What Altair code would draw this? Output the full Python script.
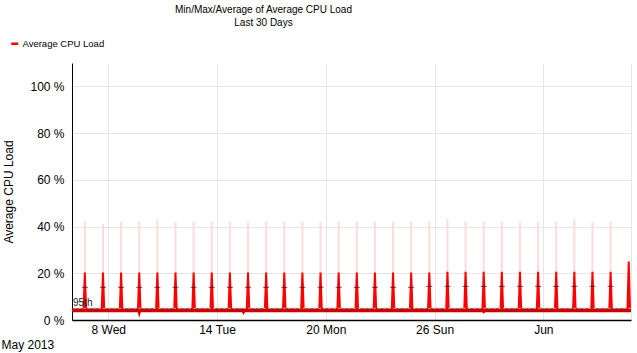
import altair as alt
import pandas as pd

# ---------------- data ----------------
days = ["2013-05-06", "2013-05-07", "2013-05-08", "2013-05-09", "2013-05-10",
        "2013-05-11", "2013-05-12", "2013-05-13", "2013-05-14", "2013-05-15",
        "2013-05-16", "2013-05-17", "2013-05-18", "2013-05-19", "2013-05-20",
        "2013-05-21", "2013-05-22", "2013-05-23", "2013-05-24", "2013-05-25",
        "2013-05-26", "2013-05-27", "2013-05-28", "2013-05-29", "2013-05-30",
        "2013-05-31", "2013-06-01", "2013-06-02", "2013-06-03", "2013-06-04",
        "2013-06-05"]
spike_time = "17:00"
# daily average peak (%)
avg_peak = [20.3, 20.3, 20.3, 20.3, 20.3, 20.3, 20.3, 20.3, 20.3, 20.3,
            20.3, 20.3, 20.3, 20.3, 20.3, 20.3, 20.3, 20.3, 20.3, 20.3,
            20.7, 20.7, 20.7, 20.7, 20.7, 20.7, 20.7, 20.7, 20.7, 20.7,
            25.0]
# daily maximum (%)  (last day: none)
max_peak = [42.4, 41.0, 42.1, 42.1, 43.1, 42.1, 42.1, 42.1, 42.1, 42.1,
            42.1, 42.1, 42.1, 42.1, 42.1, 42.1, 42.1, 42.1, 42.1, 42.1,
            43.1, 42.1, 42.1, 42.1, 42.1, 42.1, 42.1, 43.1, 42.1, 42.1,
            None]
# mid markers (%) (last day: none)
mid_mark = [14.0, 14.0, 14.0, 14.0, 14.0, 14.0, 14.0, 14.0, 14.0, 14.0,
            14.0, 14.0, 14.0, 14.0, 14.0, 14.0, 14.0, 14.0, 14.0, 14.4,
            14.4, 14.4, 14.4, 14.4, 14.4, 14.4, 14.4, 14.4, 14.4, 14.4,
            None]
spike_base = 4.6
band_top = 5.0
band_low = 3.3
dip_times = ["2013-05-09T17:00", "2013-05-15T11:00", "2013-05-28T17:00"]
dip_values = [1.0, 2.1, 2.7]
p95_value = 5.0
y_ticks = [0, 20, 40, 60, 80, 100]
x_ticks = ["2013-05-08", "2013-05-14", "2013-05-20", "2013-05-26", "2013-06-01"]
domain_start = "2013-05-06T00:00"
domain_end = "2013-06-05T20:00"
series_name = "Average CPU Load"

# ---------------- build tables ----------------
def ms(s):
    return int(pd.Timestamp(s, tz="UTC").value // 10**6)

H = 3600 * 1000
t0, t1 = ms(domain_start), ms(domain_end)

spike_rows = [{"t": t0, "v": spike_base, "lo": 4.0, "s": series_name}]
rule_rows, tick_rows = [], []
for d, a, m, k in zip(days, avg_peak, max_peak, mid_mark):
    t = ms(d + "T" + spike_time)
    spike_rows += [
        {"t": t - 3 * H, "v": spike_base, "lo": 4.0, "s": series_name},
        {"t": t - 1.3 * H, "v": a, "lo": 4.0, "s": series_name},
        {"t": t + 1.3 * H, "v": a, "lo": 4.0, "s": series_name},
        {"t": t + 3 * H, "v": spike_base, "lo": 4.0, "s": series_name},
    ]
    if m is not None:
        rule_rows.append({"t": t, "v": m, "lo": band_top})
    if k is not None:
        tick_rows.append({"t": t, "v": k})
spike_rows.append({"t": t1, "v": spike_base, "lo": 4.0, "s": series_name})

band_rows = [{"t": t0, "v": band_top, "lo": band_low}]
for dt, dv in zip(dip_times, dip_values):
    t = ms(dt)
    band_rows += [
        {"t": t - 2 * H, "v": band_top, "lo": band_low},
        {"t": t, "v": band_top, "lo": dv},
        {"t": t + 2 * H, "v": band_top, "lo": band_low},
    ]
band_rows.append({"t": t1, "v": band_top, "lo": band_low})

spikes = pd.DataFrame(spike_rows)
rules = pd.DataFrame(rule_rows)
ticks = pd.DataFrame(tick_rows)
band = pd.DataFrame(band_rows)
p95 = pd.DataFrame([{"t": t0, "v": p95_value, "label": "95th"}])

FONT = "Liberation Sans"

x_vals = [ms(s) for s in x_ticks] + [t1]
x_enc = alt.X(
    "t:T",
    scale=alt.Scale(type="utc", domain=[t0, t1]),
    axis=alt.Axis(
        values=x_vals,
        labelExpr=f"datum.value >= {t1} ? '' : (utcdate(datum.value) == 1 ? utcFormat(datum.value, '%b') : utcFormat(datum.value, '%-d %a'))",
        title="May 2013",
        titleAnchor="start",
        titleAlign="left",
        titleX=-71,
        titleY=28,
        titleBaseline="alphabetic",
        labelPadding=4,
        domainWidth=1.5,
    ),
)
y_enc = alt.Y(
    "v:Q",
    scale=alt.Scale(domain=[0, 110], nice=False),
    axis=alt.Axis(
        values=y_ticks,
        labelExpr="datum.value + ' %'",
        title="Average CPU Load",
        titleX=-60,
        titleY=128.5,
        titleBaseline="alphabetic",
        titleAlign="center",
        labelPadding=8,
    ),
)

pink = alt.Chart(rules).mark_rule(color="#FFDCDC", strokeWidth=2, clip=True).encode(
    x=x_enc, y=y_enc, y2="lo:Q"
)
spike_area = alt.Chart(spikes).mark_area(clip=True, opacity=1).encode(
    x=x_enc,
    y=y_enc,
    y2="lo:Q",
    color=alt.Color(
        "s:N",
        scale=alt.Scale(domain=[series_name], range=["#FF0000"]),
        legend=alt.Legend(
            title=None,
            orient="none",
            legendX=-62,
            legendY=-24,
            padding=0,
            symbolType="M-1,-0.36H1V0.36H-1Z",
            symbolSize=49,
            symbolStrokeWidth=0,
            labelOffset=3,
            labelFont=FONT,
            labelFontSize=9.5,
            labelColor="black",
        ),
    ),
)
band_area = alt.Chart(band).mark_area(color="#CC0000", clip=True).encode(
    x=x_enc, y=y_enc, y2="lo:Q"
)
p95_rule = alt.Chart(p95).mark_rule(color="#A0A0A0", strokeDash=[3, 2], strokeWidth=1).encode(
    y=y_enc
)
p95_text = alt.Chart(p95).mark_text(
    align="left", baseline="alphabetic", dx=1, dy=-2, fontSize=10, font=FONT, color="#222222"
).encode(x=x_enc, y=y_enc, text="label:N")
mid_ticks = alt.Chart(ticks).mark_tick(
    orient="horizontal", size=6, thickness=1, color="#330000", clip=True
).encode(x=x_enc, y=y_enc)

chart = (
    alt.layer(pink, spike_area, band_area, p95_rule, p95_text, mid_ticks)
    .properties(
        width=559,
        height=257,
        autosize=alt.AutoSizeParams(type="none"),
        padding={"left": 72, "top": 63, "right": 6, "bottom": 33},
        title=alt.Title(
            text=["Min/Max/Average of Average CPU Load", "Last 30 Days"],
            font=FONT,
            fontSize=10,
            fontWeight="normal",
            color="black",
            anchor="middle",
            frame="group",
            dx=-88,
            offset=11,
            lineHeight=13,
        ),
    )
    .configure_view(stroke=None)
    .configure_axis(
        grid=True,
        gridColor="#E6E6E6",
        ticks=False,
        domainColor="black",
        labelFont=FONT,
        labelFontSize=12,
        labelColor="black",
        titleFont=FONT,
        titleFontSize=12,
        titleFontWeight="normal",
        titleColor="black",
    )
)

chart.save("out.html", embed_options={"renderer": "svg", "actions": False})
